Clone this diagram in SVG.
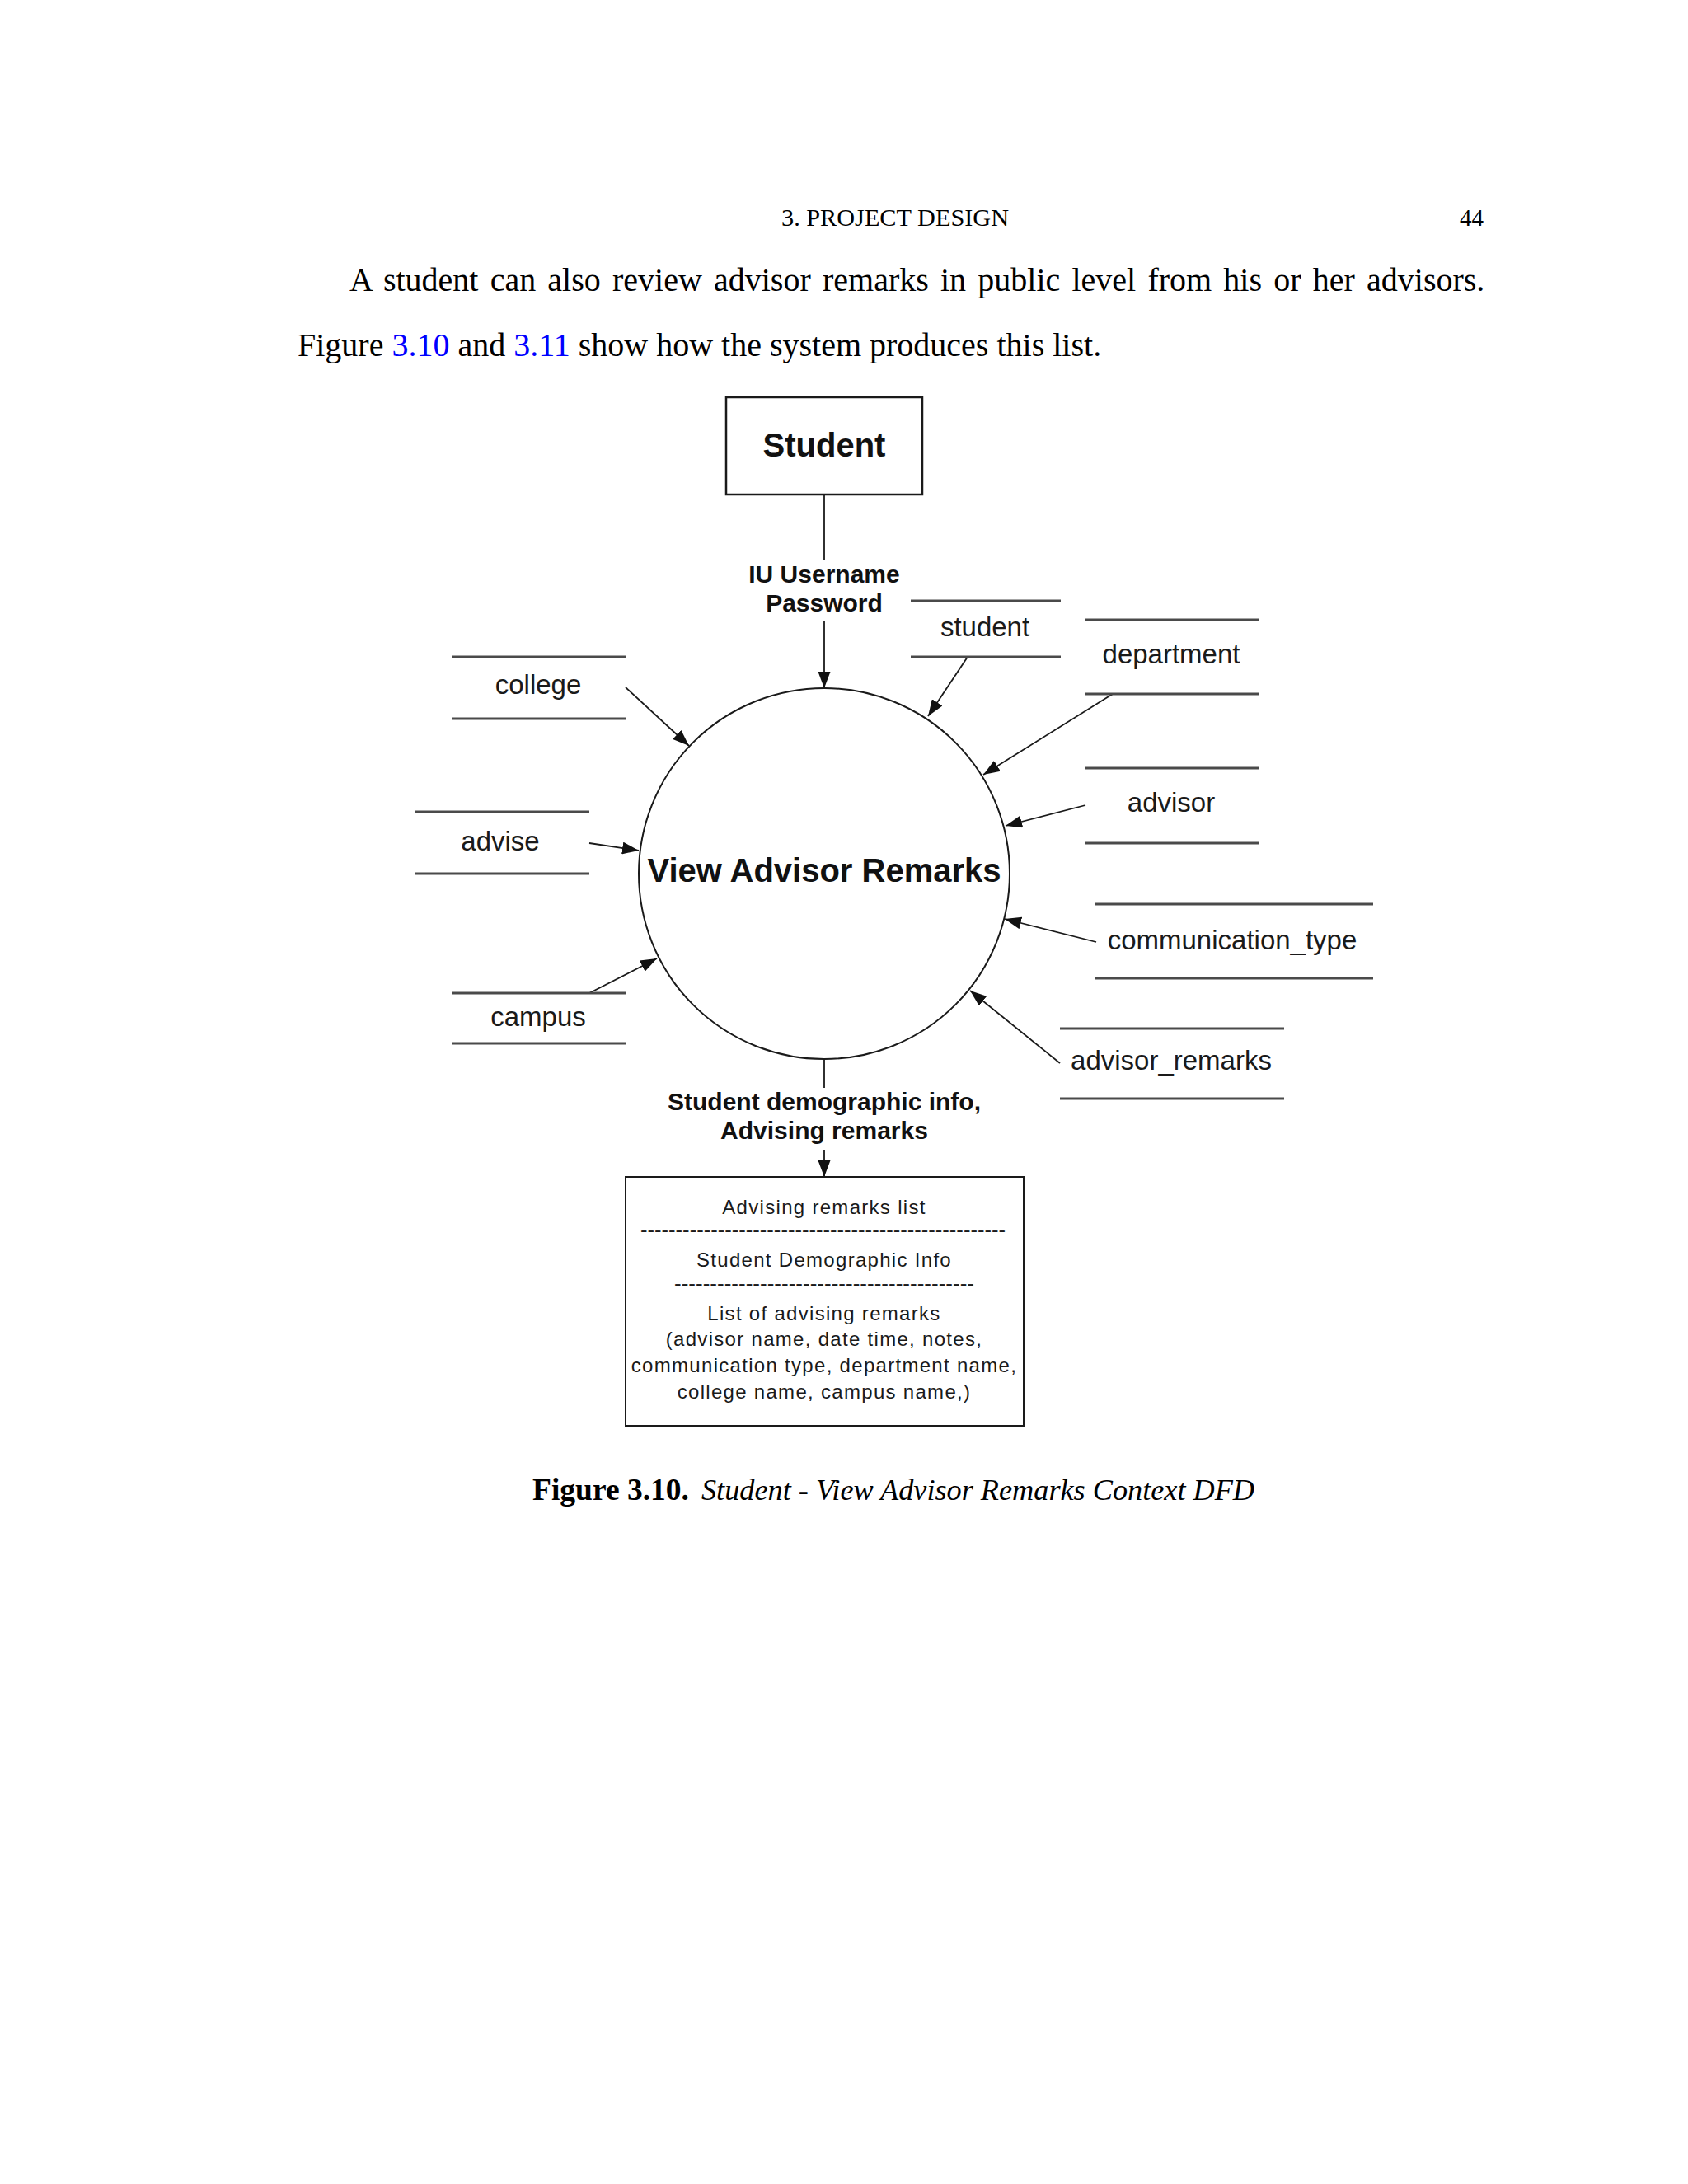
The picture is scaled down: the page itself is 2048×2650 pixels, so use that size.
<svg xmlns="http://www.w3.org/2000/svg" width="2048" height="2650" viewBox="0 0 2048 2650">
  <style>
    .serif { font-family: "Liberation Serif", "Times New Roman", serif; fill: #000; }
    .lbl { font-family: "Liberation Sans", Arial, sans-serif; font-size: 33px; fill: #1a1a1a; text-anchor: middle; }
    .flow { font-family: "Liberation Sans", Arial, sans-serif; font-size: 30px; font-weight: bold; fill: #111; text-anchor: middle; }
    .box { font-family: "Liberation Sans", Arial, sans-serif; font-size: 24px; letter-spacing: 1.3px; fill: #1a1a1a; text-anchor: middle; }
    .dash { font-family: "Liberation Sans", Arial, sans-serif; font-size: 24px; fill: #1a1a1a; }
    .store { stroke: #4a4a4a; stroke-width: 3; fill: none; }
    .conn { stroke: #1a1a1a; stroke-width: 1.8; fill: none; }
    .arr { marker-end: url(#ah); }
  </style>
  <defs>
    <marker id="ah" viewBox="0 0 20 15" refX="20" refY="7.5" markerWidth="20" markerHeight="15" markerUnits="userSpaceOnUse" orient="auto">
      <path d="M0,0 L20,7.5 L0,15 z" fill="#111"/>
    </marker>
  </defs>
  <rect width="2048" height="2650" fill="#fff"/>

  <!-- page text -->
  <text class="serif" x="948" y="274" font-size="29" textLength="276" lengthAdjust="spacingAndGlyphs">3. PROJECT DESIGN</text>
  <text class="serif" x="1800" y="274" font-size="29" text-anchor="end">44</text>
  <text class="serif" x="424" y="353" font-size="40" word-spacing="4.2">A student can also review advisor remarks in public level from his or her advisors.</text>
  <text class="serif" x="361" y="432" font-size="40">Figure <tspan fill="#0000ff">3.10</tspan> and <tspan fill="#0000ff">3.11</tspan> show how the system produces this list.</text>
  <text class="serif" x="646" y="1820" font-size="37.5" font-weight="bold" textLength="190" lengthAdjust="spacingAndGlyphs">Figure 3.10.</text>
  <text class="serif" x="851" y="1820" font-size="36" font-style="italic" textLength="671" lengthAdjust="spacingAndGlyphs">Student - View Advisor Remarks Context DFD</text>

  <!-- connectors -->
  <g id="connectors">
    <line class="conn" x1="1000" y1="600" x2="1000" y2="680"/>
    <line class="conn arr" x1="1000" y1="753" x2="1000" y2="835"/>
    <line class="conn arr" x1="1174" y1="797" x2="1126" y2="869"/>
    <line class="conn arr" x1="1350" y1="842" x2="1193" y2="940"/>
    <line class="conn arr" x1="1317" y1="977" x2="1220" y2="1002"/>
    <line class="conn arr" x1="1330" y1="1143" x2="1219" y2="1115"/>
    <line class="conn arr" x1="1286" y1="1290" x2="1177" y2="1202"/>
    <line class="conn arr" x1="759" y1="834" x2="836" y2="905"/>
    <line class="conn arr" x1="715" y1="1023" x2="775" y2="1032"/>
    <line class="conn arr" x1="715" y1="1205" x2="797" y2="1163"/>
    <line class="conn" x1="1000" y1="1285" x2="1000" y2="1320"/>
    <line class="conn arr" x1="1000" y1="1395" x2="1000" y2="1428"/>
    <text class="flow" x="1000" y="707">IU Username</text>
    <text class="flow" x="1000" y="742">Password</text>
    <text class="flow" x="1000" y="1347">Student demographic info,</text>
    <text class="flow" x="1000" y="1382">Advising remarks</text>
  </g>

  <!-- external entity -->
  <g id="entity-student">
    <rect x="881" y="482" width="238" height="118" fill="#fff" stroke="#1a1a1a" stroke-width="2.5"/>
    <text x="1000" y="554" font-family="Liberation Sans, Arial, sans-serif" font-size="40" font-weight="bold" fill="#111" text-anchor="middle">Student</text>
  </g>

  <!-- process -->
  <g id="process-view-advisor-remarks">
    <circle cx="1000" cy="1060" r="225" fill="none" stroke="#1a1a1a" stroke-width="2"/>
    <text x="1000" y="1070" font-family="Liberation Sans, Arial, sans-serif" font-size="40" font-weight="bold" fill="#111" text-anchor="middle">View Advisor Remarks</text>
  </g>

  <!-- data stores -->
  <g id="store-student">
    <line class="store" x1="1105" y1="729" x2="1287" y2="729"/>
    <line class="store" x1="1105" y1="797" x2="1287" y2="797"/>
    <text class="lbl" x="1195" y="772">student</text>
  </g>
  <g id="store-department">
    <line class="store" x1="1317" y1="752" x2="1528" y2="752"/>
    <line class="store" x1="1317" y1="842" x2="1528" y2="842"/>
    <text class="lbl" x="1421" y="805">department</text>
  </g>
  <g id="store-advisor">
    <line class="store" x1="1317" y1="932" x2="1528" y2="932"/>
    <line class="store" x1="1317" y1="1023" x2="1528" y2="1023"/>
    <text class="lbl" x="1421" y="985">advisor</text>
  </g>
  <g id="store-communication-type">
    <line class="store" x1="1329" y1="1097" x2="1666" y2="1097"/>
    <line class="store" x1="1329" y1="1187" x2="1666" y2="1187"/>
    <text class="lbl" x="1495" y="1152">communication_type</text>
  </g>
  <g id="store-advisor-remarks">
    <line class="store" x1="1286" y1="1248" x2="1558" y2="1248"/>
    <line class="store" x1="1286" y1="1333" x2="1558" y2="1333"/>
    <text class="lbl" x="1421" y="1298">advisor_remarks</text>
  </g>
  <g id="store-college">
    <line class="store" x1="548" y1="797" x2="760" y2="797"/>
    <line class="store" x1="548" y1="872" x2="760" y2="872"/>
    <text class="lbl" x="653" y="842">college</text>
  </g>
  <g id="store-advise">
    <line class="store" x1="503" y1="985" x2="715" y2="985"/>
    <line class="store" x1="503" y1="1060" x2="715" y2="1060"/>
    <text class="lbl" x="607" y="1032">advise</text>
  </g>
  <g id="store-campus">
    <line class="store" x1="548" y1="1205" x2="760" y2="1205"/>
    <line class="store" x1="548" y1="1266" x2="760" y2="1266"/>
    <text class="lbl" x="653" y="1245">campus</text>
  </g>

  <!-- output -->
  <g id="output-advising-remarks-list">
    <rect x="759" y="1428" width="483" height="302" fill="#fff" stroke="#1a1a1a" stroke-width="2"/>
    <text class="box" x="1000" y="1473">Advising remarks list</text>
    <text class="dash" x="777" y="1500" textLength="443" lengthAdjust="spacingAndGlyphs">----------------------------------------------------</text>
    <text class="box" x="1000" y="1537">Student Demographic Info</text>
    <text class="dash" x="818" y="1565" textLength="364" lengthAdjust="spacingAndGlyphs">------------------------------------------</text>
    <text class="box" x="1000" y="1602">List of advising remarks</text>
    <text class="box" x="1000" y="1633">(advisor name, date time, notes,</text>
    <text class="box" x="1000" y="1665">communication type, department name,</text>
    <text class="box" x="1000" y="1697">college name, campus name,)</text>
  </g>
</svg>
